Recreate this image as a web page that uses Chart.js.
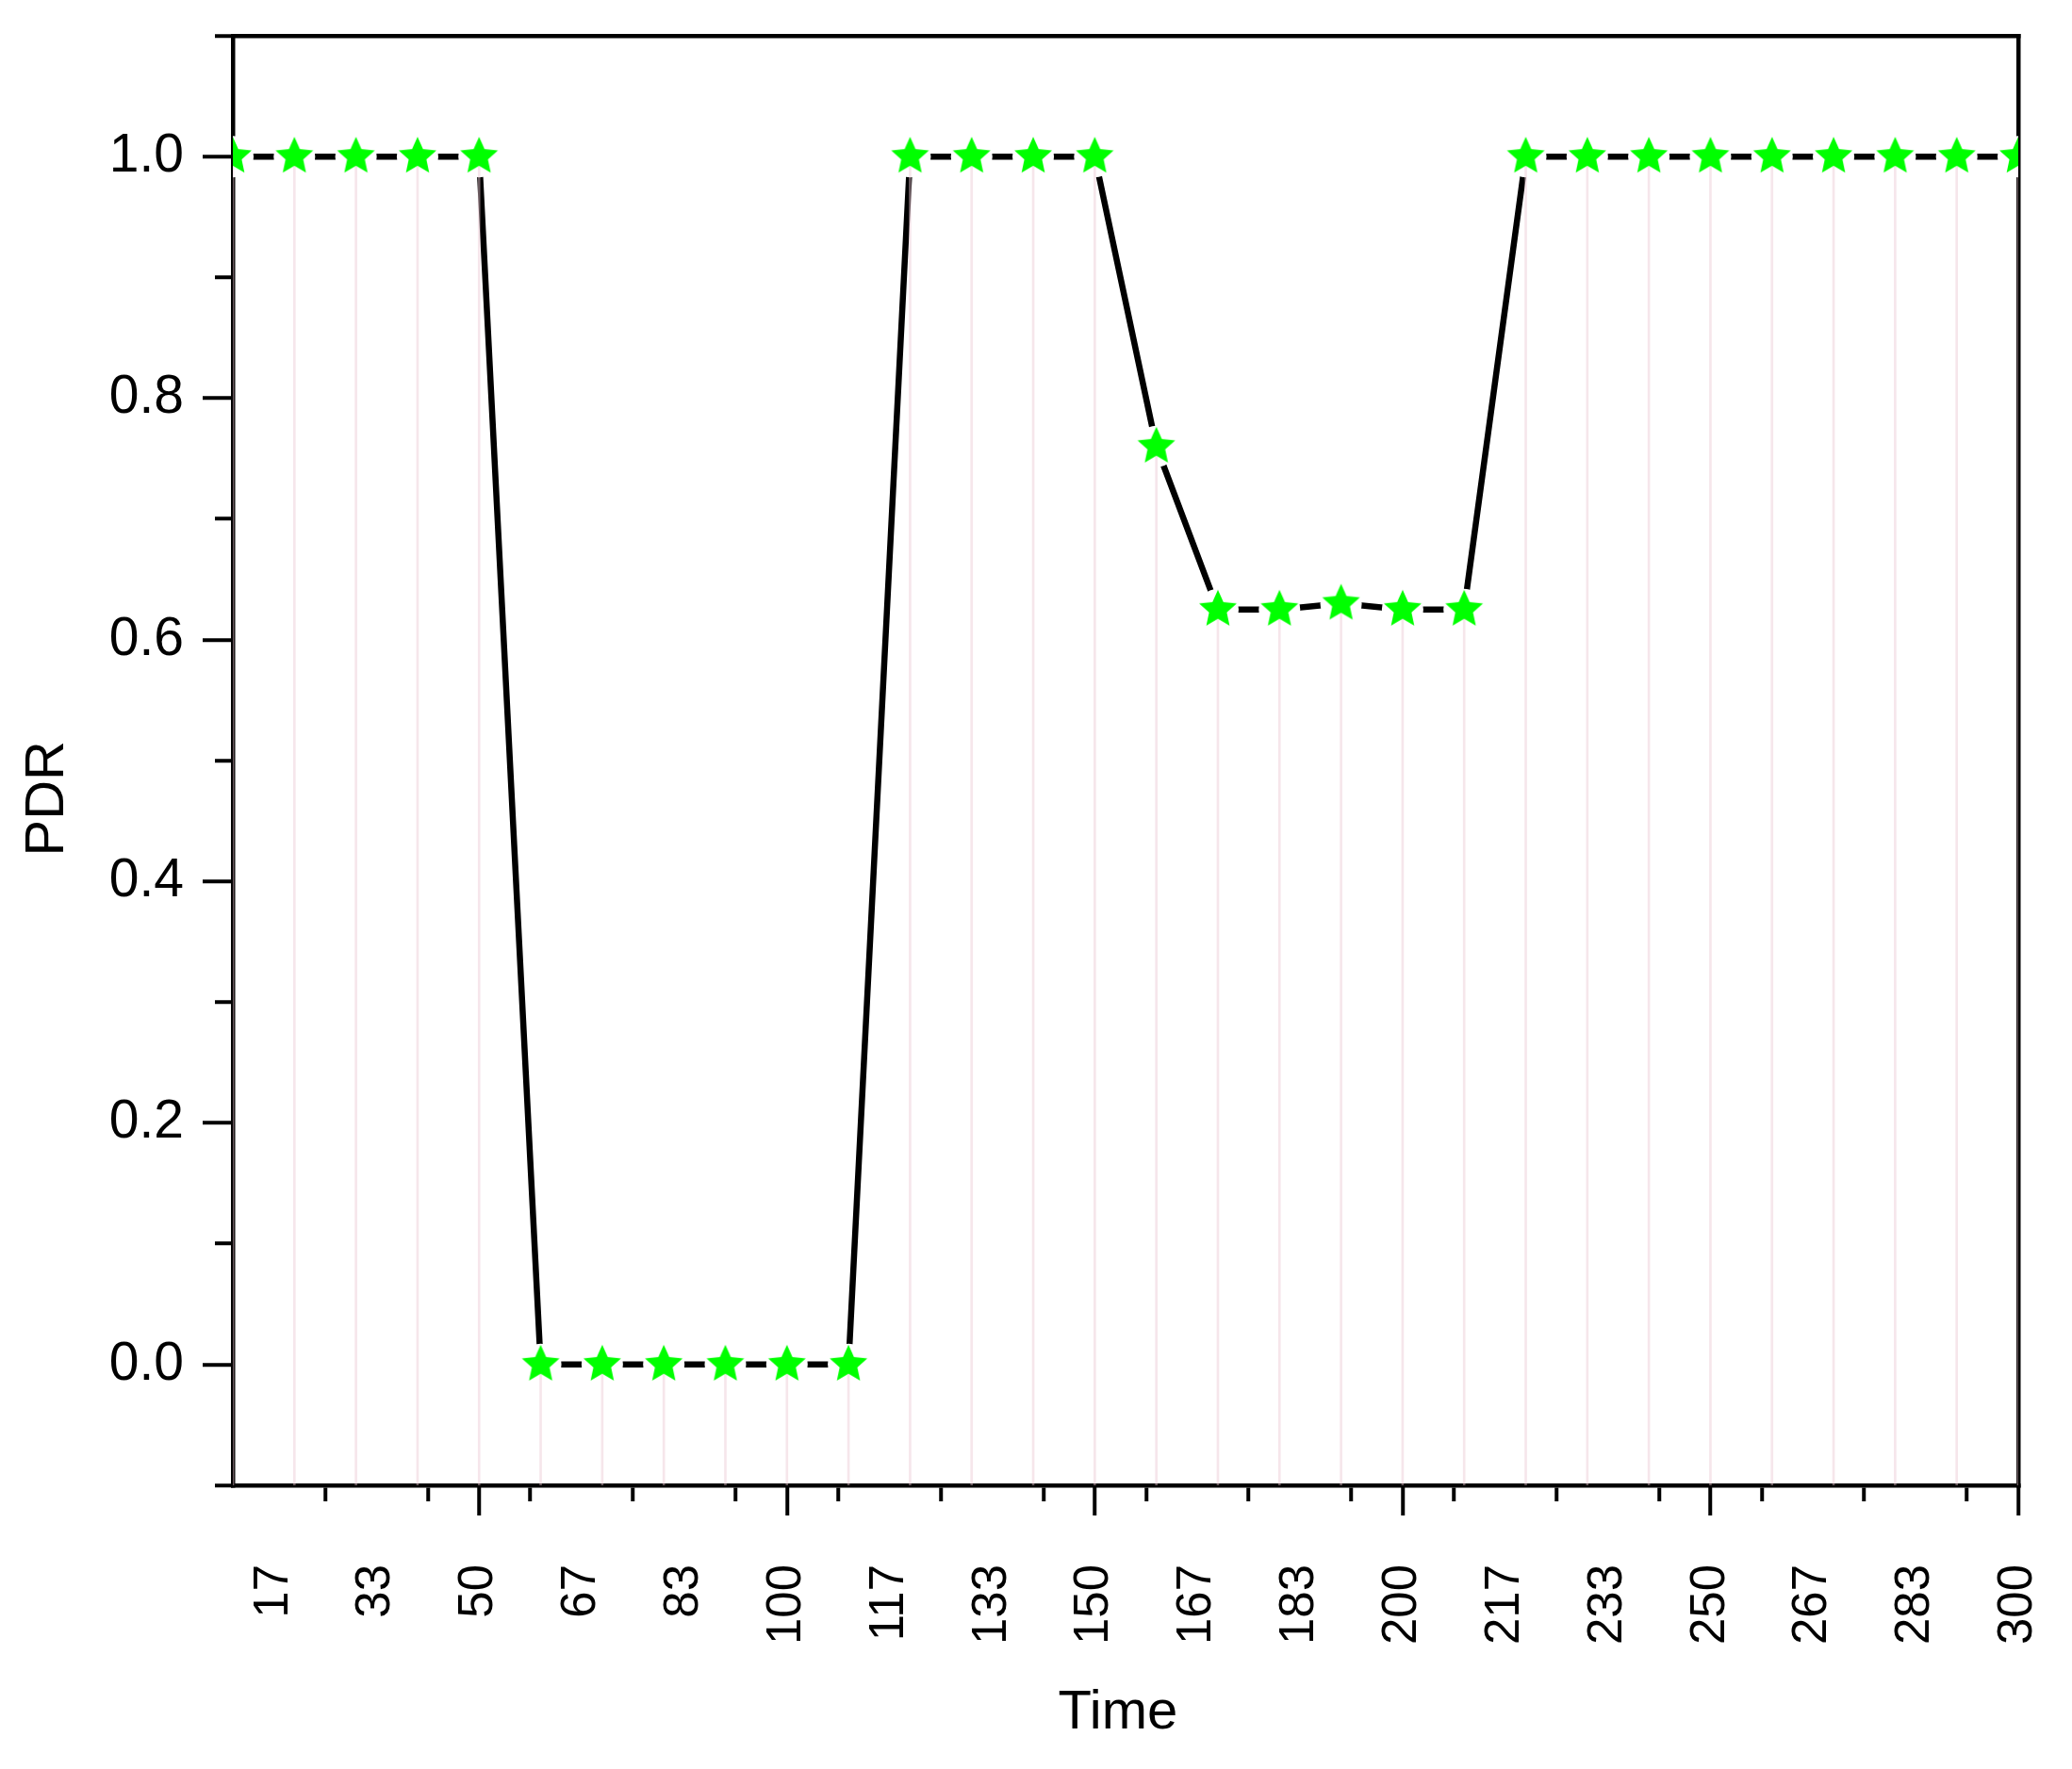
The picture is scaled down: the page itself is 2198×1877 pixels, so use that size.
<!DOCTYPE html>
<html><head><meta charset="utf-8">
<script src="https://cdn.jsdelivr.net/npm/chart.js@4/dist/chart.umd.min.js"></script>
<style>html,body{margin:0;padding:0;background:#fff;overflow:hidden;}</style>
</head><body>
<canvas id="c" width="2198" height="1877"></canvas>
<script>
// ---- data ----
const time = [10,20,30,40,50,60,70,80,90,100,110,120,130,140,150,160,170,180,190,200,210,220,230,240,250,260,270,280,290,300];
const pdr  = [1,1,1,1,1, 0,0,0,0,0,0, 1,1,1,1, 0.76, 0.625,0.625,0.63,0.625,0.625, 1,1,1,1,1,1,1,1,1];
const xTickValues = [16.667,33.333,50,66.667,83.333,100,116.667,133.333,150,166.667,183.333,200,216.667,233.333,250,266.667,283.333,300];
const xTickLabels = ['17','33','50','67','83','100','117','133','150','167','183','200','217','233','250','267','283','300'];
const xMajorTicks = [50,100,150,200,250,300];
const yTickValues = [0,0.2,0.4,0.6,0.8,1.0];
const yTickLabels = ['0.0','0.2','0.4','0.6','0.8','1.0'];
const yMinorTicks = [-0.1,0.1,0.3,0.5,0.7,0.9,1.1];
const xRange = [10,300];
const yRange = [-0.1,1.1];
const xTitle = 'Time';
const yTitle = 'PDR';

// ---- star marker ----
function makeStar(R, ratio, color){
  const s = Math.ceil(R*2+4), c = document.createElement('canvas');
  c.width = s; c.height = s;
  const g = c.getContext('2d'); const cx = s/2, cy = s/2;
  g.beginPath();
  for(let i=0;i<10;i++){
    const a = -Math.PI/2 + i*Math.PI/5, r = i%2 ? R*ratio : R;
    const px = cx + r*Math.cos(a), py = cy + r*Math.sin(a);
    i ? g.lineTo(px,py) : g.moveTo(px,py);
  }
  g.closePath(); g.fillStyle = color; g.fill();
  return c;
}
const star = makeStar(21, 0.47, '#00ff00');

const pts = time.map((t,i)=>({x:t, y:pdr[i]}));
const drops = time.map((t,i)=>({x:t, y:[yRange[0], pdr[i]]}));

const FONT = "'Liberation Sans', Arial, sans-serif";
const tickSet = vals => s => { s.ticks = vals.map(v=>({value:v})); };
const noPad = s => { s.paddingTop = 0; s.paddingBottom = 0; s.paddingLeft = 0; s.paddingRight = 0; };

new Chart(document.getElementById('c'), {
  type: 'line',
  data: { datasets: [
    { type:'line', data: pts, borderColor:'#000', borderWidth:6.5, pointRadius:0, tension:0, order:4, clip:0 },
    { type:'line', data: pts, showLine:false, pointRadius:22, pointBackgroundColor:'#fff', pointBorderWidth:0, order:3, clip:0 },
    { type:'bar', data: drops, backgroundColor:'rgba(236,200,210,0.45)', borderWidth:0, barThickness:2, order:2 },
    { type:'line', data: pts, showLine:false, pointStyle: star, pointRadius:21, order:1, clip:0 }
  ]},
  options: {
    responsive:false, devicePixelRatio:1, animation:false,
    layout: { padding: { top:38, right:57, left:0, bottom:0 } },
    plugins: { legend:{display:false}, tooltip:{enabled:false} },
    events: [],
    scales: {
      x: {
        type:'linear', position:'bottom', min:xRange[0], max:xRange[1], offset:false, z:1,
        afterBuildTicks: tickSet(xTickValues),
        afterFit: s => { s.height = 301; noPad(s); },
        ticks: { autoSkip:false, minRotation:90, maxRotation:90, padding:67, color:'#000',
                 font:{family:FONT, size:51}, callback:(v,i)=>xTickLabels[i] },
        grid: { drawOnChartArea:false, drawTicks:true, tickLength:17, tickWidth:4, tickColor:'#000', lineWidth:4.5, color:'#000' },
        border: { display:true, color:'#000', width:4.5 },
        title: { display:true, text: xTitle + ' ', color:'#000', font:{family:FONT, size:58}, padding:{top:0, bottom:24} }
      },
      xMajor: {
        type:'linear', axis:'x', position:{y:yRange[0]}, min:xRange[0], max:xRange[1], offset:false, z:1,
        afterBuildTicks: tickSet(xMajorTicks),
        afterFit: noPad,
        ticks: { display:false },
        grid: { drawOnChartArea:false, drawTicks:true, tickLength:32, tickWidth:4, tickColor:'#000', lineWidth:4.5 },
        border: { display:false }
      },
      xTop: {
        type:'linear', axis:'x', position:{y:yRange[1]}, min:xRange[0], max:xRange[1], offset:false, z:1,
        afterFit: noPad,
        ticks: { display:false },
        grid: { drawOnChartArea:false, drawTicks:false, lineWidth:4.5 },
        border: { display:true, color:'#000', width:4.5 }
      },
      y: {
        type:'linear', position:'left', min:yRange[0], max:yRange[1], z:1,
        afterBuildTicks: tickSet(yTickValues),
        afterFit: s => { s.width = 247; noPad(s); },
        ticks: { padding:20, color:'#000', font:{family:FONT, size:57}, callback:(v,i)=>yTickLabels[i] },
        grid: { drawOnChartArea:false, drawTicks:true, tickLength:32, tickWidth:4, tickColor:'#000', lineWidth:4.5, color:'#000' },
        border: { display:true, color:'#000', width:4.5 },
        title: { display:true, text: yTitle + '     ', color:'#000', font:{family:FONT, size:58}, padding:{top:16, bottom:0} }
      },
      yMinor: {
        type:'linear', axis:'y', position:{x:xRange[0]}, min:yRange[0], max:yRange[1], z:1,
        afterBuildTicks: tickSet(yMinorTicks),
        afterFit: noPad,
        ticks: { display:false },
        grid: { drawOnChartArea:false, drawTicks:true, tickLength:19, tickWidth:4, tickColor:'#000', lineWidth:4.5 },
        border: { display:false }
      },
      yRight: {
        type:'linear', axis:'y', position:{x:xRange[1]}, min:yRange[0], max:yRange[1], z:1,
        afterFit: noPad,
        ticks: { display:false },
        grid: { drawOnChartArea:false, drawTicks:false, lineWidth:4.5 },
        border: { display:true, color:'#000', width:4.5 }
      }
    }
  }
});
</script>
</body></html>
